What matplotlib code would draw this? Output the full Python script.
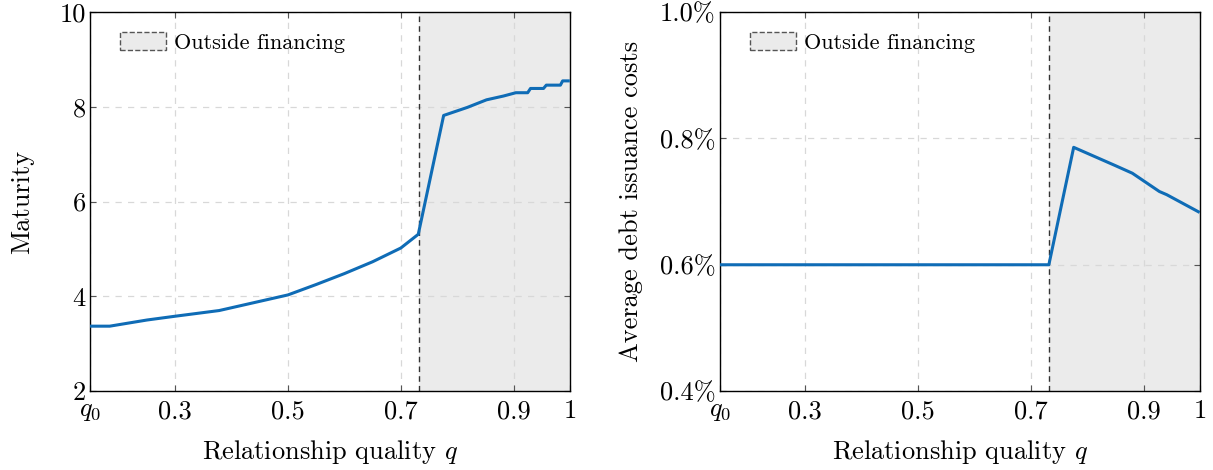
import numpy as np
import matplotlib
matplotlib.use("Agg")
import matplotlib.pyplot as plt
from matplotlib.patches import Patch

plt.rcParams['font.family'] = 'serif'
plt.rcParams['font.serif'] = ['cmr10', 'DejaVu Serif']
plt.rcParams['mathtext.fontset'] = 'cm'
plt.rcParams['axes.unicode_minus'] = False

# Data
q0 = 0.149
q_cut = 0.732

q_maturity = [q0, 0.184, 0.25, 0.30, 0.378, 0.50, 0.55, 0.60, 0.65, 0.70, 0.731,
              0.776, 0.818, 0.852, 0.882, 0.904, 0.925, 0.930, 0.953, 0.958,
              0.983, 0.987, 0.997]
maturity = [3.37, 3.37, 3.50, 3.58, 3.70, 4.03, 4.25, 4.48, 4.73, 5.02, 5.31,
            7.82, 7.99, 8.15, 8.23, 8.30, 8.30, 8.39, 8.39, 8.46,
            8.46, 8.55, 8.55]

q_cost = [q0, 0.732, 0.776, 0.850, 0.880, 0.928, 0.941, 0.997]
cost = [0.600, 0.600, 0.786, 0.757, 0.745, 0.716, 0.711, 0.684]

xticks = [q0, 0.3, 0.5, 0.7, 0.9, 1.0]
xticklabels = [r'$q_0$', '0.3', '0.5', '0.7', '0.9', '1']
mat_ticks = [2, 4, 6, 8, 10]
cost_ticks = [0.4, 0.6, 0.8, 1.0]
cost_labels = ['0.4%', '0.6%', '0.8%', '1.0%']

line_color = '#0f6cb6'
shade_color = '#ebebeb'
fs = 19

fig = plt.figure(figsize=(12.13, 4.70), dpi=100)
ax1 = fig.add_axes([0.0742, 0.168, 0.3957, 0.806])
ax2 = fig.add_axes([0.5936, 0.168, 0.3957, 0.806])


def style_axis(ax, yticks, ylabels, ylim, ylabel, ypad):
    ax.axvspan(q_cut, 1.0, color=shade_color, lw=0, zorder=0.3)
    ax.axvline(q_cut, color='#333333', ls=(0, (4, 3)), lw=1.0, zorder=2)
    ax.set_xlim(q0, 1.0)
    ax.set_ylim(*ylim)
    ax.set_xticks(xticks)
    ax.set_xticklabels(xticklabels, fontsize=fs)
    ax.set_yticks(yticks)
    ax.set_yticklabels(ylabels, fontsize=fs)
    ax.tick_params(direction='in', length=4, width=0.8, color='#555555',
                   top=True, right=True)
    ax.tick_params(axis='x', pad=6)
    ax.tick_params(axis='y', pad=3)
    ax.grid(True, color='#d8d8d8', ls=(0, (5, 5)), lw=0.9)
    ax.set_axisbelow(True)
    for s in ax.spines.values():
        s.set_linewidth(1.0)
        s.set_zorder(3)
    ax.set_xlabel(r'Relationship quality $q$', fontsize=fs, labelpad=11)
    ax.set_ylabel(ylabel, fontsize=fs, labelpad=ypad)
    handle = Patch(facecolor=shade_color, edgecolor='#555555', linestyle='--', lw=1.0)
    ax.legend([handle], ['Outside financing'], loc='upper left', frameon=False,
              fontsize=16, handlelength=2.1, handleheight=0.85, handletextpad=0.35,
              borderaxespad=0.5, bbox_to_anchor=(0.02, 1.0))


ax1.plot(q_maturity, maturity, color=line_color, lw=2.2, zorder=4)
style_axis(ax1, mat_ticks, [str(t) for t in mat_ticks], (2, 10), 'Maturity', 18)

ax2.plot(q_cost, cost, color=line_color, lw=2.2, zorder=4)
style_axis(ax2, cost_ticks, cost_labels, (0.4, 1.0), 'Average debt issuance costs', 12)

fig.savefig('out.png', dpi=100)
